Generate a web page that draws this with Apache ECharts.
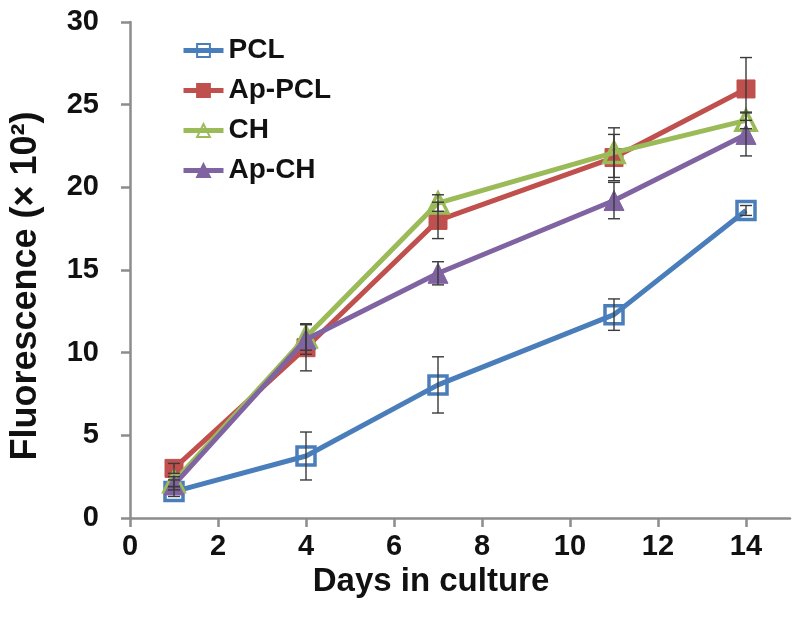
<!DOCTYPE html>
<html><head><meta charset="utf-8">
<script src="https://cdn.jsdelivr.net/npm/echarts@6/dist/echarts.min.js"></script>
<style>html,body{margin:0;padding:0;background:#fff}#c{width:800px;height:634px}</style>
</head><body><div id="c"></div>
<script>
const days = [1, 4, 7, 11, 14];
const seriesNames = ['PCL', 'Ap-PCL', 'CH', 'Ap-CH'];
const pcl = [1.6, 3.75, 8.05, 12.3, 18.6];
const apPcl = [3.0, 10.3, 18.0, 21.8, 25.95];
const ch = [2.2, 10.95, 19.05, 22.1, 24.05];
const apCh = [2.0, 10.8, 14.8, 19.2, 23.2];
const pclErr = [0.3, 1.45, 1.7, 0.95, 0.3];
const apPclErr = [0.3, 1.4, 1.1, 1.4, 1.9];
const chErr = [0.3, 0.8, 0.5, 1.5, 0.5];
const apChErr = [0.3, 0.9, 0.7, 1.1, 1.3];
const xTicks = [0, 2, 4, 6, 8, 10, 12, 14];
const colors = ['#4a7ebb', '#c0504d', '#9bbb59', '#8064a2'];

const vals = [pcl, apPcl, ch, apCh];
const errs = [pclErr, apPclErr, chErr, apChErr];
const symbols = ['rect', 'rect', 'triangle', 'triangle'];
const hollow = [true, false, true, false];
const FONT = 'Liberation Sans, Arial, sans-serif';

const series = [];
vals.forEach((v, i) => {
  series.push({
    type: 'line',
    name: seriesNames[i],
    z: 2 + i,
    data: days.map((d, k) => [d, v[k]]),
    symbol: symbols[i],
    symbolSize: symbols[i] === 'rect' ? 18 : 20,
    lineStyle: { color: colors[i], width: 5 },
    itemStyle: hollow[i]
      ? { color: 'rgba(255,255,255,0)', borderColor: colors[i], borderWidth: 3.5 }
      : { color: colors[i], borderColor: colors[i], borderWidth: 1 },
    emphasis: { disabled: true }
  });
});
vals.forEach((v, i) => {
  series.push({
    type: 'custom',
    name: seriesNames[i] + ' err',
    z: 10,
    silent: true,
    data: days.map((d, k) => [d, v[k] - errs[i][k], v[k] + errs[i][k]]),
    renderItem: function (params, api) {
      const lo = api.coord([api.value(0), api.value(1)]);
      const hi = api.coord([api.value(0), api.value(2)]);
      const w = 6;
      const st = { stroke: '#3a3a3a', lineWidth: 1.4 };
      return { type: 'group', children: [
        { type: 'line', shape: { x1: lo[0], y1: lo[1], x2: hi[0], y2: hi[1] }, style: st },
        { type: 'line', shape: { x1: lo[0] - w, y1: lo[1], x2: lo[0] + w, y2: lo[1] }, style: st },
        { type: 'line', shape: { x1: hi[0] - w, y1: hi[1], x2: hi[0] + w, y2: hi[1] }, style: st }
      ]};
    }
  });
});

const chart = echarts.init(document.getElementById('c'), null, { renderer: 'canvas' });
chart.setOption({
  animation: false,
  backgroundColor: '#fff',
  grid: { left: 130, right: 10, top: 22, bottom: 116, containLabel: false },
  legend: {
    data: seriesNames,
    orient: 'vertical',
    left: 176,
    top: 31,
    itemGap: 11,
    itemWidth: 40,
    itemHeight: 16,
    lineStyle: { width: 5 },
    textStyle: { fontFamily: FONT, fontWeight: 'bold', fontSize: 28, lineHeight: 29, color: '#111' }
  },
  xAxis: {
    type: 'value', min: 0, max: 15, interval: 2,
    name: 'Days in culture', nameLocation: 'middle', nameGap: 42,
    nameTextStyle: { fontFamily: FONT, fontWeight: 'bold', fontSize: 33, color: '#111', verticalAlign: 'top', padding: [0, 58, 0, 0] },
    axisLine: { show: true, lineStyle: { color: '#8c8c8c', width: 2.5 } },
    axisTick: { show: true, length: 9, inside: false, customValues: xTicks, lineStyle: { color: '#8c8c8c', width: 2.5 } },
    axisLabel: { customValues: xTicks, margin: 14, fontFamily: FONT, fontWeight: 'bold', fontSize: 29, color: '#111' },
    splitLine: { show: false }
  },
  yAxis: {
    type: 'value', min: 0, max: 30, interval: 5,
    name: 'Fluorescence (× 10²)', nameLocation: 'middle', nameGap: 86, nameRotate: 90,
    nameTextStyle: { fontFamily: FONT, fontWeight: 'bold', fontSize: 36, color: '#111', padding: [0, 32, 0, 0] },
    axisLine: { show: true, lineStyle: { color: '#8c8c8c', width: 2.5 } },
    axisTick: { show: true, length: 9, lineStyle: { color: '#8c8c8c', width: 2.5 } },
    axisLabel: { margin: 31, fontFamily: FONT, fontWeight: 'bold', fontSize: 29, color: '#111' },
    splitLine: { show: false }
  },
  series: series
});
</script></body></html>
